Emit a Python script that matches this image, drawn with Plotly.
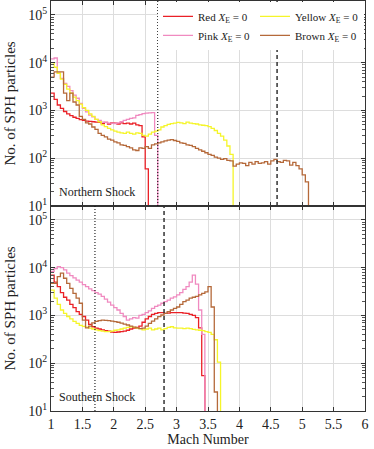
import numpy as np
import plotly.graph_objects as go
from plotly.subplots import make_subplots

# histogram bins: start at Mach 1.0, width 0.05
bin_start = 1.0
bin_width = 0.05

# Northern shock counts per bin
north_red = [2300, 1700, 1300, 1100, 950, 850, 780, 720, 680, 640, 620, 600, 590, 580,
             570, 560, 530, 560, 520, 550, 540, 520, 550, 530, 540, 520, 540, 500, 480,
             280, 60, 8]
north_pink = [12000, 12500, 6000, 4700, 3700, 3200, 2600, 2100, 1800, 1400, 1100, 930,
              800, 730, 650, 620, 570, 560, 540, 540, 530, 550, 580, 620, 650, 680, 700,
              790, 820, 860, 880, 890, 900, 300]
north_yellow = [10000, 8000, 6000, 4500, 3500, 2800, 2300, 1900, 1600, 1350, 1150, 1000,
                850, 750, 650, 580, 500, 460, 420, 390, 370, 350, 340, 330, 350, 330, 320,
                340, 330, 300, 290, 320, 350, 370, 390, 450, 480, 510, 530, 540, 560, 550,
                530, 570, 540, 530, 520, 500, 490, 480, 460, 420, 380, 330, 290, 240, 180,
                120]
north_brown = [5000, 6400, 6400, 6400, 2300, 1600, 2300, 1500, 1300, 750, 650, 550, 520,
               450, 400, 330, 300, 280, 250, 240, 220, 210, 190, 185, 175, 165, 150, 145,
               165, 160, 175, 160, 190, 200, 210, 220, 230, 240, 245, 235, 225, 210, 205,
               190, 185, 175, 160, 150, 140, 130, 120, 115, 105, 100, 95, 98, 90, 88, 68,
               75, 80, 78, 70, 82, 75, 85, 78, 80, 85, 75, 88, 95, 85, 82, 90, 88, 72, 82,
               70, 60, 45, 32]

# Southern shock counts per bin
south_red = [7000, 5000, 4000, 3000, 2400, 2100, 1700, 1450, 1200, 1050, 950, 800, 650,
             580, 540, 520, 500, 480, 470, 450, 440, 450, 460, 470, 490, 520, 540, 560,
             600, 720, 850, 950, 1050, 1100, 1150, 1150, 1100, 1120, 1150, 1150, 1150,
             1150, 1120, 1100, 1050, 1000, 900, 550, 55]
south_pink = [8300, 9500, 10500, 10000, 9000, 7700, 6800, 6100, 5500, 5000, 4400, 4000,
              3600, 3300, 3000, 2800, 2500, 2200, 1900, 1650, 1450, 1300, 1100, 950, 800,
              850, 900, 880, 1000, 1050, 1150, 1250, 1400, 1550, 1650, 1800, 1950, 2100,
              2300, 2450, 2700, 3000, 3500, 4000, 5000, 7000, 4500, 1300, 400]
south_yellow = [3400, 2300, 1700, 1300, 1100, 950, 850, 750, 680, 620, 590, 570, 540, 520,
                500, 480, 470, 460, 460, 470, 490, 500, 520, 540, 560, 580, 560, 540, 530,
                500, 520, 540, 500, 520, 540, 500, 530, 560, 580, 550, 540, 540, 530, 540,
                530, 510, 500, 490, 480, 460, 440, 400, 310, 105]
south_brown = [4700, 4700, 6500, 7700, 6000, 4700, 3700, 2900, 2300, 1800, 800, 550, 600,
               700, 750, 780, 800, 790, 780, 760, 740, 720, 690, 660, 630, 600, 570, 550,
               530, 540, 600, 680, 760, 850, 940, 1020, 1100, 1200, 1300, 1400, 1500, 1700,
               1950, 2100, 2300, 2400, 2500, 2700, 2900, 3100, 4000, 1500, 25]

# shock Mach numbers (dotted, dashed)
north_shock_mach = [2.7, 4.6]
south_shock_mach = [1.7, 2.8]

names = ["Red", "Pink", "Yellow", "Brown"]
colors = {"Red": "#ea2027", "Pink": "#f08ac0", "Yellow": "#f5f52a", "Brown": "#b5693a"}
legend_of = {"Red": "legend", "Pink": "legend", "Yellow": "legend2", "Brown": "legend2"}

x_ticks = [1, 1.5, 2, 2.5, 3, 3.5, 4, 4.5, 5, 5.5, 6]
x_ticktext = ["1", "1.5", "2", "2.5", "3", "3.5", "4", "4.5", "5", "5.5", "6"]
y_ticks = [1e1, 1e2, 1e3, 1e4, 1e5]
y_ticktext = ["10<sup>1</sup>", "10<sup>2</sup>", "10<sup>3</sup>", "10<sup>4</sup>", "10<sup>5</sup>"]

FONT = "Liberation Serif"


def step_xy(counts):
    counts = np.asarray(counts, dtype=float)
    edges = bin_start + bin_width * np.arange(len(counts) + 1)
    # empty bins sit below the axis floor on a log scale
    ys = np.append(counts, 1e-2)
    return edges, ys


fig = make_subplots(rows=2, cols=1, shared_xaxes=True, vertical_spacing=0)

north = {"Red": north_red, "Pink": north_pink, "Yellow": north_yellow, "Brown": north_brown}
south = {"Red": south_red, "Pink": south_pink, "Yellow": south_yellow, "Brown": south_brown}

for row, data in ((1, north), (2, south)):
    for nm in names:
        xs, ys = step_xy(data[nm])
        fig.add_trace(go.Scatter(
            x=xs, y=ys, mode="lines", line_shape="hv",
            line=dict(color=colors[nm], width=1.3),
            name=f"{nm} <i>X</i><sub>E</sub> = 0",
            showlegend=(row == 1), legend=legend_of[nm],
        ), row=row, col=1)

# shock positions
for row, machs in ((1, north_shock_mach), (2, south_shock_mach)):
    yref = "y domain" if row == 1 else "y2 domain"
    for m, dash, w, c in zip(machs, ["1px,2px", "4px,3px"], [1.1, 1.5], ["#111", "#333"]):
        fig.add_shape(type="line", xref="x", yref=yref, x0=m, x1=m, y0=0, y1=1,
                      line=dict(color=c, width=w, dash=dash))

fig.add_annotation(text="Northern Shock", xref="x domain", yref="y domain", x=0.02, y=0.025,
                   xanchor="left", yanchor="bottom", showarrow=False,
                   font=dict(family=FONT, size=12, color="#222"))
fig.add_annotation(text="Southern Shock", xref="x2 domain", yref="y2 domain", x=0.02, y=0.025,
                   xanchor="left", yanchor="bottom", showarrow=False,
                   font=dict(family=FONT, size=12, color="#222"))

# y titles, one per panel
for yref in ("y domain", "y2 domain"):
    fig.add_annotation(text="No. of SPH particles", xref="paper", yref=yref,
                       x=-42 / 314, y=0.5, xanchor="center", yanchor="middle",
                       textangle=-90, showarrow=False,
                       font=dict(family=FONT, size=15, color="#222"))

minor_vals = [m * 10 ** e for e in range(1, 5) for m in range(2, 10)]

axis_common = dict(showline=True, linecolor="#333", linewidth=1.3, mirror="allticks",
                   ticks="inside", ticklen=4, tickcolor="#333",
                   showgrid=True, gridcolor="#dddddd", gridwidth=1, zeroline=False,
                   tickfont=dict(family=FONT, size=14, color="#222"))

fig.update_xaxes(range=[1, 6], tickvals=x_ticks, ticktext=x_ticktext, **axis_common)
fig.update_xaxes(showticklabels=False, row=1, col=1)
fig.update_xaxes(title=dict(text="Mach Number", standoff=1,
                            font=dict(family=FONT, size=14, color="#222")), row=2, col=1)
fig.update_yaxes(type="log", range=[1, 5.29], tickvals=y_ticks, ticktext=y_ticktext,
                 minor=dict(tickvals=minor_vals, ticks="inside", ticklen=2.5,
                            tickcolor="#555", showgrid=False),
                 **axis_common)

legend_common = dict(yanchor="top", y=0.998, xanchor="left", bgcolor="white",
                     borderwidth=0, font=dict(family=FONT, size=11, color="#222"),
                     itemwidth=30, tracegroupgap=0)
fig.update_layout(
    width=374, height=449,
    margin=dict(l=51, r=9, t=1, b=38),
    paper_bgcolor="white", plot_bgcolor="white",
    font=dict(family=FONT, size=13, color="#222"),
    legend=dict(x=(158 - 51) / 314, **legend_common),
    legend2=dict(x=(255 - 51) / 314, **legend_common),
)

fig.write_html("out.html", config={"displayModeBar": False},
               post_script="document.body.style.margin='0';")
